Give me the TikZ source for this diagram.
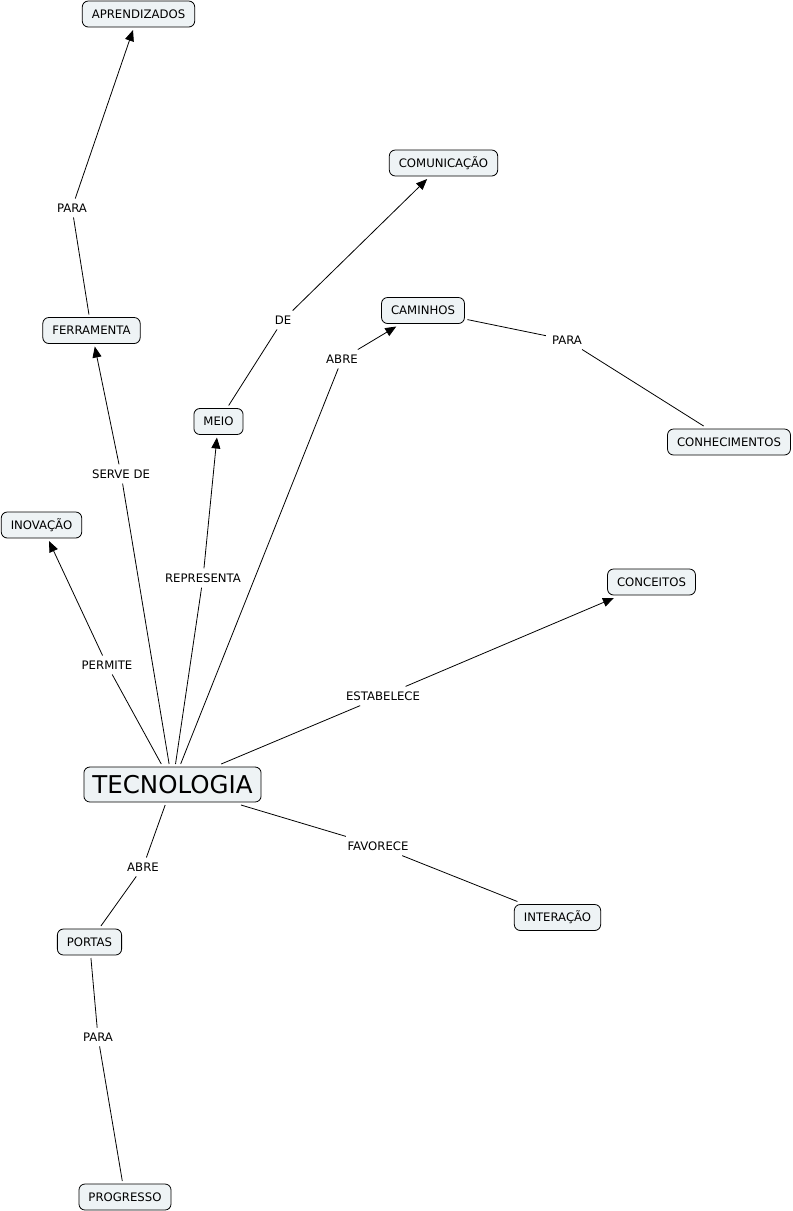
\documentclass[tikz,border=0pt]{standalone}
\usepackage{fontspec}
\setmainfont{DejaVu Sans}
\usetikzlibrary{arrows.meta}
\definecolor{cfill}{RGB}{238,243,245}
\begin{document}
\begin{tikzpicture}[x=1pt,y=-1pt,
  concept/.style={draw=black, fill=cfill, rounded corners=6pt, line width=0.8pt,
    inner xsep=9.5pt, inner ysep=0pt, minimum height=26pt, outer sep=3pt,
    font=\fontsize{11.7}{14}\selectfont},
  bigconcept/.style={concept, minimum height=35pt, inner xsep=8.5pt,
    font=\fontsize{24.5}{28}\selectfont},
  linklabel/.style={inner xsep=6pt, inner ysep=5pt, font=\fontsize{11.7}{14}\selectfont},
  conn/.style={line width=0.8pt},
  arr/.style={conn, -{Triangle[length=11pt,width=9pt]}}]
\useasboundingbox (0,0) rectangle (793,1211);

% concepts
\node[concept] (apr) at (138.5,14) {APRENDIZADOS};
\node[concept] (com) at (443.5,163) {COMUNICAÇÃO};
\node[concept] (cam) at (423,310.5) {CAMINHOS};
\node[concept] (fer) at (91.5,330.5) {FERRAMENTA};
\node[concept] (mei) at (218.5,421.5) {MEIO};
\node[concept] (con) at (729,442) {CONHECIMENTOS};
\node[concept] (ino) at (41.5,525) {INOVAÇÃO};
\node[concept] (cct) at (651.5,582) {CONCEITOS};
\node[bigconcept] (tec) at (172.5,784.5) {TECNOLOGIA};
\node[concept] (por) at (89.5,942) {PORTAS};
\node[concept] (int) at (557.5,917.5) {INTERAÇÃO};
\node[concept] (pro) at (125,1197) {PROGRESSO};

% linking phrases
\node[linklabel] (l1) at (72,208) {PARA};
\node[linklabel] (l2) at (283,320) {DE};
\node[linklabel] (l3) at (342,359) {ABRE};
\node[linklabel] (l4) at (567,340) {PARA};
\node[linklabel] (l5) at (121,474) {SERVE DE};
\node[linklabel] (l6) at (203,578) {REPRESENTA};
\node[linklabel] (l7) at (107,665) {PERMITE};
\node[linklabel] (l8) at (383,696) {ESTABELECE};
\node[linklabel] (l9) at (143,867) {ABRE};
\node[linklabel] (l10) at (378,846) {FAVORECE};
\node[linklabel] (l11) at (98,1037) {PARA};

% connectors
\draw[conn] (fer) -- (l1);  \draw[arr] (l1) -- (apr);
\draw[conn] (mei) -- (l2);  \draw[arr] (l2) -- (com);
\draw[conn] (tec) -- (l3);  \draw[arr] (l3) -- (cam);
\draw[conn] (cam) -- (l4);  \draw[conn] (l4) -- (con);
\draw[conn] (tec) -- (l5);  \draw[arr] (l5) -- (fer);
\draw[conn] (tec) -- (l6);  \draw[arr] (l6) -- (mei);
\draw[conn] (tec) -- (l7);  \draw[arr] (l7) -- (ino);
\draw[conn] (tec) -- (l8);  \draw[arr] (l8) -- (cct);
\draw[conn] (tec) -- (l9);  \draw[conn] (l9) -- (por);
\draw[conn] (tec) -- (l10); \draw[conn] (l10) -- (int);
\draw[conn] (por) -- (l11); \draw[conn] (l11) -- (pro);
\end{tikzpicture}
\end{document}
